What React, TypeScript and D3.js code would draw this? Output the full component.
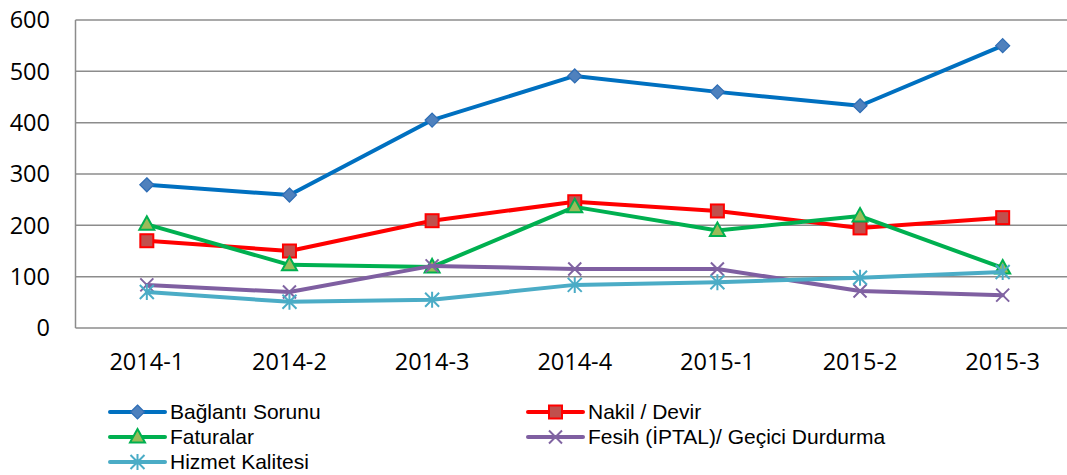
import React from "react";
import * as d3 from "d3";

const categories = ["2014-1", "2014-2", "2014-3", "2014-4", "2015-1", "2015-2", "2015-3"];
const yTicks = [0, 100, 200, 300, 400, 500, 600];

const baglanti = [279, 259, 405, 491, 460, 433, 550];
const nakil = [170, 150, 209, 246, 228, 195, 215];
const faturalar = [202, 123, 119, 236, 190, 218, 117];
const fesih = [84, 70, 121, 115, 115, 72, 64];
const hizmet = [70, 51, 55, 84, 89, 98, 109];

const seriesNames = ["Bağlantı Sorunu", "Nakil / Devir", "Faturalar", "Fesih (İPTAL)/ Geçici Durdurma", "Hizmet Kalitesi"];

type Series = { name: string; values: number[]; line: string; fill: string; stroke: string; marker: string };

const series: Series[] = [
  { name: seriesNames[0], values: baglanti, line: "#0070c0", fill: "#4f81bd", stroke: "#2e6db5", marker: "diamond" },
  { name: seriesNames[1], values: nakil, line: "#ff0000", fill: "#c0504d", stroke: "#ff0000", marker: "square" },
  { name: seriesNames[2], values: faturalar, line: "#00b050", fill: "#9bbb59", stroke: "#00b050", marker: "triangle" },
  { name: seriesNames[3], values: fesih, line: "#7f5fa1", fill: "none", stroke: "#8064a2", marker: "x" },
  { name: seriesNames[4], values: hizmet, line: "#4bacc6", fill: "none", stroke: "#4bacc6", marker: "star" },
];

const W = 1067, H = 475;
const plotL = 75.5, plotR = 1074, plotT = 20, plotB = 328;
const FONT = "'Open Sans', sans-serif";
const LFONT = "'Liberation Sans', Arial, sans-serif";

function Marker({ type, x, y, fill, stroke }: { type: string; x: number; y: number; fill: string; stroke: string }) {
  if (type === "diamond") {
    const r = 7;
    return <path d={`M${x},${y - r}L${x + r},${y}L${x},${y + r}L${x - r},${y}Z`} fill={fill} stroke={stroke} strokeWidth={1.2} />;
  }
  if (type === "square") {
    const r = 6.5;
    return <rect x={x - r} y={y - r} width={2 * r} height={2 * r} fill={fill} stroke={stroke} strokeWidth={2} />;
  }
  if (type === "triangle") {
    return <path d={`M${x},${y - 8}L${x + 7.5},${y + 5.5}L${x - 7.5},${y + 5.5}Z`} fill={fill} stroke={stroke} strokeWidth={2} />;
  }
  if (type === "x") {
    const r = 6.5;
    return <path d={`M${x - r},${y - r}L${x + r},${y + r}M${x - r},${y + r}L${x + r},${y - r}`} stroke={stroke} strokeWidth={2} fill="none" />;
  }
  const r = 7;
  return (
    <path
      d={`M${x - r},${y - r}L${x + r},${y + r}M${x - r},${y + r}L${x + r},${y - r}M${x},${y - r - 1}L${x},${y + r + 1}`}
      stroke={stroke}
      strokeWidth={2}
      fill="none"
    />
  );
}

export default function App() {
  const x = d3.scaleBand<string>().domain(categories).range([plotL, plotR]);
  const y = d3.scaleLinear().domain([0, 600]).range([plotB, plotT]);
  const cx = (c: string) => (x(c) as number) + x.bandwidth() / 2;
  const line = d3
    .line<number>()
    .x((_, i) => cx(categories[i]))
    .y((d) => y(d));

  const legendPos = [
    { x: 110, y: 412 },
    { x: 528, y: 412 },
    { x: 110, y: 437 },
    { x: 528, y: 437 },
    { x: 110, y: 462 },
  ];

  return (
    <svg width={W} height={H} style={{ position: "absolute", left: 0, top: 0, background: "#fff" }}>
      <rect width={W} height={H} fill="#fff" />
      {yTicks.map((t) => (
        <g key={t}>
          <line x1={plotL} x2={W} y1={y(t)} y2={y(t)} stroke="#8c8c8c" strokeWidth={1.5} />
          <text x={50} y={y(t)} dy="0.35em" textAnchor="end" fontFamily={FONT} fontSize={23.5} fill="#000">
            {t}
          </text>
        </g>
      ))}
      <line x1={plotL} x2={plotL} y1={plotT} y2={plotB} stroke="#8c8c8c" strokeWidth={1.5} />
      {categories.map((c) => (
        <text key={c} x={cx(c)} y={362} dy="0.35em" textAnchor="middle" fontFamily={FONT} fontSize={23.5} fill="#000">
          {c}
        </text>
      ))}
      {series.map((s) => (
        <g key={s.name}>
          <path d={line(s.values) || ""} fill="none" stroke={s.line} strokeWidth={4} strokeLinejoin="round" strokeLinecap="round" />
          {s.values.map((v, i) => (
            <Marker key={i} type={s.marker} x={cx(categories[i])} y={y(v)} fill={s.fill} stroke={s.stroke} />
          ))}
        </g>
      ))}
      {series.map((s, i) => {
        const p = legendPos[i];
        return (
          <g key={"lg" + s.name}>
            <line x1={p.x} x2={p.x + 55} y1={p.y} y2={p.y} stroke={s.line} strokeWidth={4} strokeLinecap="round" />
            <Marker type={s.marker} x={p.x + 27.5} y={p.y} fill={s.fill} stroke={s.stroke} />
            <text x={p.x + 60} y={p.y} dy="0.35em" fontFamily={LFONT} fontSize={21} fill="#000">
              {s.name}
            </text>
          </g>
        );
      })}
    </svg>
  );
}
